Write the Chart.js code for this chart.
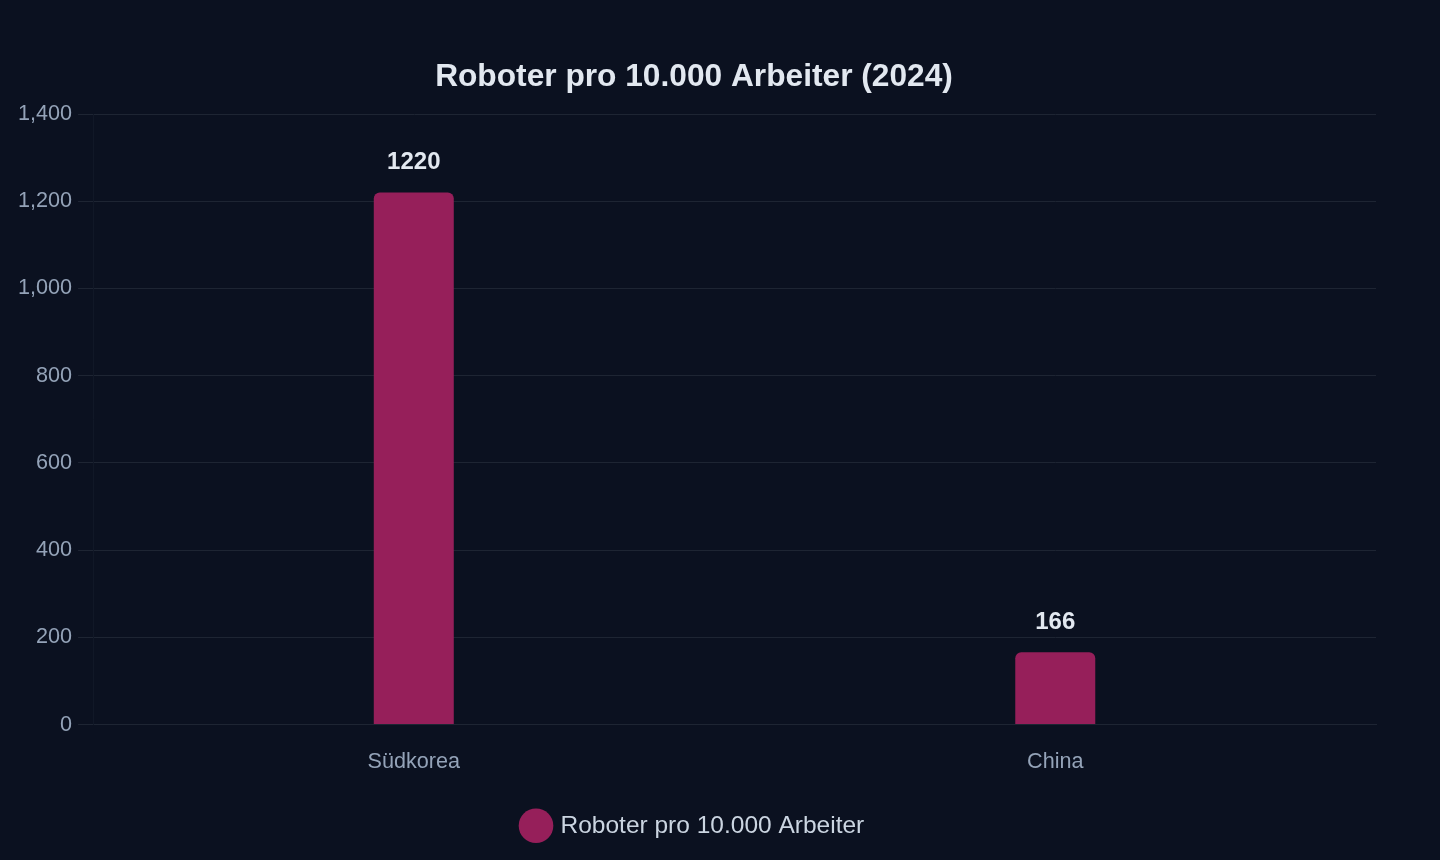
<!DOCTYPE html>
<html>
<head>
<meta charset="utf-8">
<script src="https://cdn.jsdelivr.net/npm/chart.js@4"></script>
<style>
  html, body { margin: 0; padding: 0; background: #0b1120; }
  #wrap { width: 1440px; height: 860px; }
</style>
</head>
<body>
<div id="wrap"><canvas id="myChart"></canvas></div>
<script>
// data
const laender = ['Südkorea', 'China'];
const roboter = [1220, 166];
const serieName = 'Roboter pro 10.000 Arbeiter';
const titel = 'Roboter pro 10.000 Arbeiter (2024)';

// value labels above the bars
const wertLabels = {
    id: 'wertLabels',
    afterDatasetsDraw(chart) {
        const ctx = chart.ctx;
        const meta = chart.getDatasetMeta(0);
        ctx.save();
        ctx.fillStyle = '#e2e8f0';
        ctx.font = 'bold 24px "Liberation Sans", Arial, sans-serif';
        ctx.textAlign = 'center';
        ctx.textBaseline = 'bottom';
        meta.data.forEach((bar, i) => {
            ctx.fillText(String(roboter[i]), bar.x, bar.y - 18);
        });
        ctx.restore();
    }
};

Chart.defaults.font.family = '"Liberation Sans", Arial, sans-serif';

const ctx = document.getElementById('myChart').getContext('2d');
const myChart = new Chart(ctx, {
    type: 'bar',
    data: {
        labels: laender,
        datasets: [{
            label: serieName,
            data: roboter,
            backgroundColor: '#961f5a',
            borderRadius: 6,
            borderSkipped: 'bottom',
            maxBarThickness: 80
        }]
    },
    options: {
        responsive: true,
        maintainAspectRatio: false,
        animation: false,
        layout: { padding: { top: 58, right: 64, left: 12, bottom: 12 } },
        plugins: {
            title: {
                display: true,
                text: titel,
                color: '#e2e8f0',
                font: { size: 31.7, weight: 'bold' },
                padding: { top: 0, bottom: 18 }
            },
            legend: {
                position: 'bottom',
                labels: {
                    usePointStyle: true,
                    pointStyle: 'circle',
                    color: '#cbd5e1',
                    font: { size: 24.5 },
                    padding: 21
                }
            },
            tooltip: { enabled: false }
        },
        scales: {
            x: {
                grid: { display: false },
                border: { color: '#1e2533' },
                ticks: { color: '#94a3b8', font: { size: 21.6 }, padding: 17 }
            },
            y: {
                beginAtZero: true,
                min: 0,
                max: 1400,
                ticks: { stepSize: 200, color: '#94a3b8', font: { size: 21.6 }, padding: 6 },
                grid: { color: '#1e2533', tickLength: 15 },
                border: { color: '#111827' }
            }
        }
    },
    plugins: [wertLabels]
});
</script>
</body>
</html>
